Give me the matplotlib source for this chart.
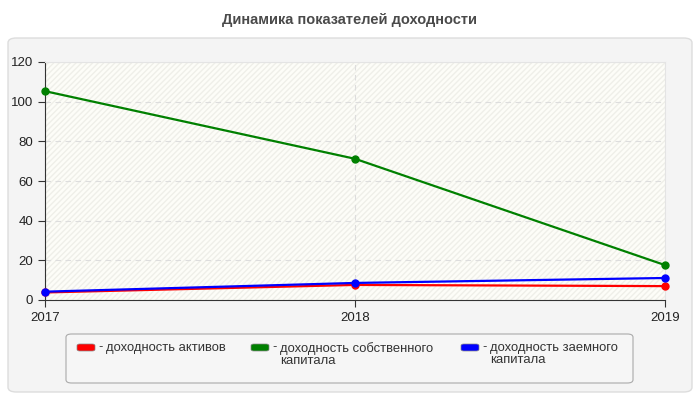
import matplotlib.pyplot as plt
import numpy as np
from matplotlib.patches import FancyBboxPatch

plt.rcParams['font.family'] = ['Liberation Sans', 'DejaVu Sans']

years = [2017, 2018, 2019]
roa = [3.8, 7.6, 7.0]       # доходность активов
roe = [105.3, 71.2, 17.6]   # доходность собственного капитала
rod = [4.2, 8.6, 11.1]      # доходность заемного капитала

series = [
    (roa, 'red', 'доходность активов'),
    (roe, 'green', 'доходность собственного\nкапитала'),
    (rod, 'blue', 'доходность заемного\nкапитала'),
]

fig = plt.figure(figsize=(7, 4), dpi=100)
fig.patch.set_facecolor('white')

# outer panel
panel = FancyBboxPatch((8 / 700, 8 / 400), 684 / 700, 354 / 400, transform=fig.transFigure,
                       boxstyle='round,pad=0,rounding_size=0.012', facecolor='#f4f4f4',
                       edgecolor='#dddddd', linewidth=1, zorder=-10)
fig.patches.append(panel)

fig.text(0.5, 1 - 20 / 400, 'Динамика показателей доходности', ha='center', va='center',
         fontsize=10.5, fontweight='bold', color='#4a4a4a')

ax = fig.add_axes([45 / 700, 100 / 400, 620 / 700, 238 / 400])
ax.set_facecolor('#fdfdf8')
ax.add_patch(plt.Rectangle((0, 0), 1, 1, transform=ax.transAxes, facecolor='none',
                           edgecolor='#efefe9', hatch='//////', linewidth=0, zorder=0))

for vals, col, lab in series:
    ax.plot(years, vals, color=col, linewidth=1.6, marker='o', markersize=5, zorder=3,
            clip_on=False)

ax.set_xlim(2017, 2019)
ax.set_ylim(0, 120)
ax.set_xticks(years)
ax.set_yticks(np.arange(0, 121, 20))
ax.grid(True, linestyle=(0, (5, 4)), color='#dddddd', linewidth=0.8)
ax.set_axisbelow(True)
ax.spines['top'].set_color('#e4e4e4')
ax.spines['right'].set_color('#e4e4e4')
ax.spines['left'].set_color('#333333')
ax.spines['bottom'].set_color('#333333')
ax.tick_params(labelsize=9.5, colors='#222222', length=5, color='#333333')

# legend box
lb = FancyBboxPatch((66 / 700, 17 / 400), 567 / 700, 49 / 400, transform=fig.transFigure,
                    boxstyle='round,pad=0,rounding_size=0.008', facecolor='#f6f6f6',
                    edgecolor='#aaaaaa', linewidth=0.8, zorder=1)
fig.patches.append(lb)
xs = [77, 251, 461]
for (vals, col, lab), x in zip(series, xs):
    sw = FancyBboxPatch((x / 700, 1 - 351 / 400), 18 / 700, 7 / 400, transform=fig.transFigure,
                        boxstyle='round,pad=0,rounding_size=0.004', facecolor=col,
                        edgecolor='#888888', linewidth=0.5, zorder=2)
    fig.patches.append(sw)
    fig.text((x + 21) / 700, 1 - 341 / 400, '-', ha='left', va='top', fontsize=9.4,
             color='#333333')
    fig.text((x + 29) / 700, 1 - 342 / 400, lab, ha='left', va='top', fontsize=9.4,
             color='#333333', linespacing=1.0)

fig.savefig('out.png', dpi=100)
